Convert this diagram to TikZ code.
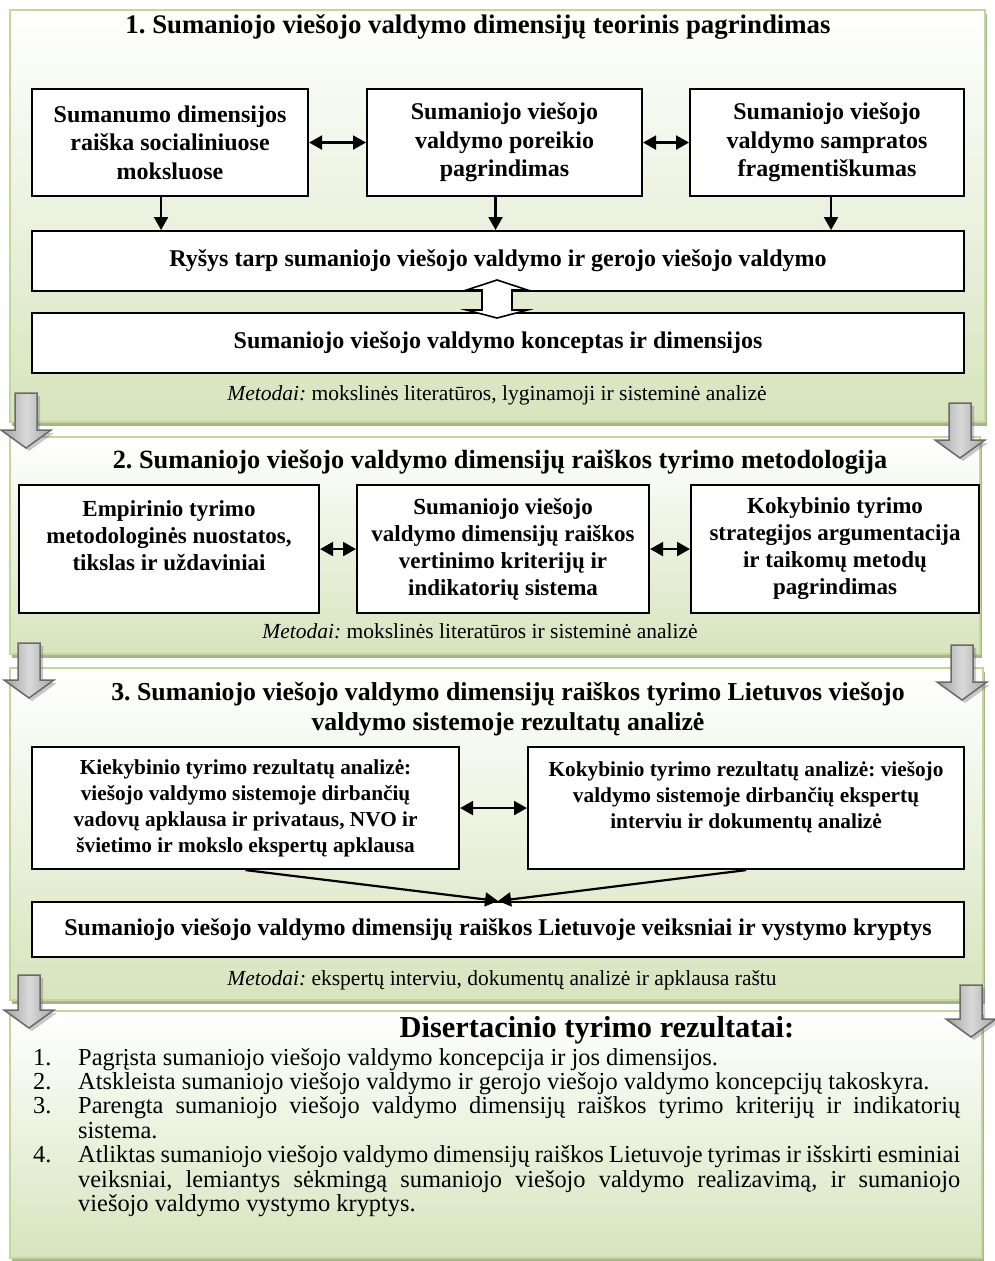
\documentclass[tikz,border=0pt]{standalone}
\usepackage{fontspec}
\setmainfont{Liberation Serif}
\usetikzlibrary{arrows.meta,shadows,calc}
\definecolor{panelborder}{HTML}{C3D69B}
\definecolor{panelbottom}{HTML}{D7E4BD}
\definecolor{panelshadow}{HTML}{A5B48F}
\definecolor{arrowedge}{HTML}{6A6A6A}
\newcommand\fsz[2]{\fontsize{#1}{#2}\selectfont}
% grey block arrow pointing down: x centre, y top, y tip
\newcommand\greyarrow[3]{%
  \path[draw=arrowedge, line width=1.5pt, left color=gray!75, right color=gray!70, middle color=gray!30,
        drop shadow={shadow xshift=3pt, shadow yshift=-3pt, opacity=.35, fill=black!60}]
    (#1-11,#2) -- (#1+11,#2) -- (#1+11,#3-18) -- (#1+25,#3-18) -- (#1,#3)
    -- (#1-25,#3-18) -- (#1-11,#3-18) -- cycle;}
\begin{document}
\frenchspacing
\begin{tikzpicture}[x=1pt,y=-1pt,
  panel/.style={rectangle, draw=panelborder, line width=2pt, top color=white, bottom color=panelbottom,
        anchor=north west, inner sep=0pt,
        drop shadow={shadow xshift=2pt, shadow yshift=-4pt, opacity=1, fill=panelshadow}},
  box/.style={rectangle, draw=black, line width=2.1pt, fill=white, anchor=north west, inner sep=0pt, align=center},
  boxa/.style={box, font=\fsz{24}{28.5}\bfseries},
  boxb/.style={box, font=\fsz{23}{27}\bfseries},
  boxc/.style={box, font=\fsz{21.3}{26}\bfseries},
  ttl/.style={align=center, inner sep=0pt, font=\fsz{26.5}{30}\bfseries},
  mtd/.style={inner sep=0pt, font=\fsz{21.5}{24}},
  lst/.style={inner sep=0pt, anchor=base west, font=\fsz{24.4}{24.4}},
  conn/.style={line width=2.2pt, -{Triangle[length=13pt,width=14pt]}},
  dconn/.style={line width=2.2pt, {Triangle[length=13pt,width=14pt]}-{Triangle[length=13pt,width=14pt]}},
]
\useasboundingbox (0,0) rectangle (994,1261);
\fill[white] (0,0) rectangle (994,1261);

% ---------- panels ----------
\node[panel, minimum width=975pt, minimum height=412pt] (p1) at (9,9) {};
\node[panel, minimum width=970pt, minimum height=217pt] (p2) at (9,436) {};
\node[panel, minimum width=973pt, minimum height=332pt] (p3) at (9,667) {};
\node[panel, minimum width=972pt, minimum height=247pt] (p4) at (9,1010) {};

% ---------- block arrows between panels ----------
\greyarrow{26}{393}{448}
\greyarrow{960}{403}{458}
\greyarrow{29}{643}{698}
\greyarrow{962}{645}{700}
\greyarrow{29}{975}{1028}
\greyarrow{971}{985}{1037}

% ---------- panel 1 ----------
\node[ttl, font=\fsz{26.8}{30}\bfseries] (t1) at (478,27) {1. Sumaniojo viešojo valdymo dimensijų teorinis pagrindimas};
\node[boxa, minimum width=276pt, minimum height=107pt] (a) at (31,88)
  {Sumanumo dimensijos\\raiška socialiniuose\\moksluose};
\node[boxa, minimum width=275pt, minimum height=107pt] (b) at (366,88)
  {Sumaniojo viešojo\\valdymo poreikio\\pagrindimas};
\node[boxa, minimum width=274pt, minimum height=107pt] (c) at (689,88)
  {Sumaniojo viešojo\\valdymo sampratos\\fragmentiškumas};
\node[boxa, minimum width=932pt, minimum height=60pt] (d) at (31,230)
  {Ryšys tarp sumaniojo viešojo valdymo ir gerojo viešojo valdymo};
\node[boxa, minimum width=932pt, minimum height=60pt] (e) at (31,312)
  {Sumaniojo viešojo valdymo konceptas ir dimensijos};
\node[mtd] (m1) at (497,395) {\textit{Metodai:} mokslinės literatūros, lyginamoji ir sisteminė analizė};

\draw[dconn] (a.east) -- (b.west);
\draw[dconn] (b.east) -- (c.west);
\coordinate (a1) at ([xshift=-9pt]a.south);
\coordinate (b1) at ([xshift=-9pt]b.south);
\coordinate (c1) at ([xshift=4pt]c.south);
\draw[conn] (a1) -- (a1 |- d.north);
\draw[conn] (b1) -- (b1 |- d.north);
\draw[conn] (c1) -- (c1 |- d.north);
% hollow two-way arrow between d and e
\draw[line width=1.6pt, fill=white, line join=miter]
  (497,280) -- (527.5,290) -- (512,290) -- (512,310) -- (527.5,310) -- (497,318)
  -- (466.5,310) -- (482,310) -- (482,290) -- (466.5,290) -- cycle;

% ---------- panel 2 ----------
\node[ttl, font=\fsz{26.3}{30}\bfseries] (t2) at (500,462) {2. Sumaniojo viešojo valdymo dimensijų raiškos tyrimo metodologija};
\node[boxb, minimum width=300pt, minimum height=128pt] (f) at (18,484)
  {Empirinio tyrimo\\metodologinės nuostatos,\\tikslas ir uždaviniai\\\mbox{}};
\node[boxb, minimum width=292pt, minimum height=128pt] (g) at (356,484)
  {Sumaniojo viešojo\\valdymo dimensijų raiškos\\vertinimo kriterijų ir\\indikatorių sistema};
\node[boxb, minimum width=288pt, minimum height=128pt] (h) at (690,484)
  {Kokybinio tyrimo\\strategijos argumentacija\\ir taikomų metodų\\pagrindimas};
\node[mtd] (m2) at (480,631) {\textit{Metodai:} mokslinės literatūros ir sisteminė analizė};
\draw[dconn] (f.east) -- (g.west);
\draw[dconn] (g.east) -- (h.west);

% ---------- panel 3 ----------
\node[ttl, font=\fsz{25.8}{30}\bfseries] (t3) at (508,709) {3. Sumaniojo viešojo valdymo dimensijų raiškos tyrimo Lietuvos viešojo\\valdymo sistemoje rezultatų analizė};
\node[boxc, minimum width=427pt, minimum height=122pt] (i) at (31,746)
  {Kiekybinio tyrimo rezultatų analizė:\\viešojo valdymo sistemoje dirbančių\\vadovų apklausa ir privataus, NVO ir\\švietimo ir mokslo ekspertų apklausa};
\node[boxc, minimum width=436pt, minimum height=122pt] (j) at (527,746)
  {Kokybinio tyrimo rezultatų analizė: viešojo\\valdymo sistemoje dirbančių ekspertų\\interviu ir dokumentų analizė\\\mbox{}};
\node[boxa, minimum width=932pt, minimum height=55pt] (k) at (31,901)
  {Sumaniojo viešojo valdymo dimensijų raiškos Lietuvoje veiksniai ir vystymo kryptys};
\node[mtd] (m3) at (502,980) {\textit{Metodai:} ekspertų interviu, dokumentų analizė ir apklausa raštu};
\draw[dconn] (i.east) -- (j.west);
\draw[conn] (i.south) -- (k.north);
\draw[conn] (j.south) -- (k.north);

% ---------- panel 4 ----------
\node[ttl, font=\fsz{30.4}{32}\bfseries] (t4) at (597,1030) {Disertacinio tyrimo rezultatai:};
\node[lst] (n1) at (33,1065) {1.};
\node[lst] (n2) at (33,1089) {2.};
\node[lst] (n3) at (33,1113) {3.};
\node[lst] (n4) at (33,1162) {4.};
\node[lst] (l1) at (78,1065) {Pagrįsta sumaniojo viešojo valdymo koncepcija ir jos dimensijos.};
\node[lst] (l2) at (78,1089) {Atskleista sumaniojo viešojo valdymo ir gerojo viešojo valdymo koncepcijų takoskyra.};
\node[lst] (l3) at (78,1113) {\makebox[882pt][s]{Parengta sumaniojo viešojo valdymo dimensijų raiškos tyrimo kriterijų ir indikatorių}};
\node[lst] (l3b) at (78,1138) {sistema.};
\node[lst] (l4) at (78,1162) {\makebox[882pt][s]{Atliktas sumaniojo viešojo valdymo dimensijų raiškos Lietuvoje tyrimas ir išskirti esminiai}};
\node[lst] (l4b) at (78,1187) {\makebox[882pt][s]{veiksniai, lemiantys sėkmingą sumaniojo viešojo valdymo realizavimą, ir sumaniojo}};
\node[lst] (l4c) at (78,1211) {viešojo valdymo vystymo kryptys.};
\end{tikzpicture}
\end{document}
